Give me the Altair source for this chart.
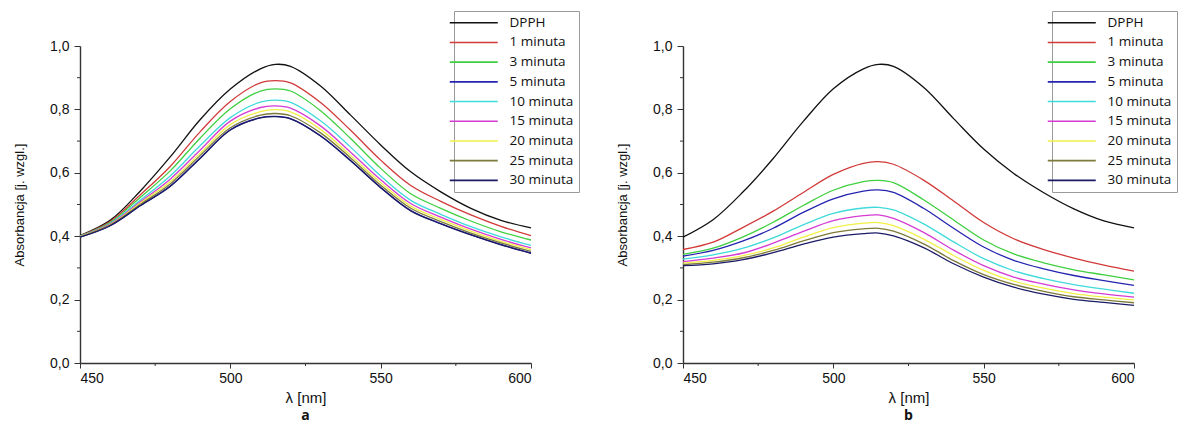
import altair as alt
import pandas as pd

wavelengths = [450, 460, 470, 480, 490, 500, 510, 515, 520, 530, 540, 550, 560, 570, 580, 590, 600]

series_names = ["DPPH", "1 minuta", "3 minuta", "5 minuta", "10 minuta",
                "15 minuta", "20 minuta", "25 minuta", "30 minuta"]
series_colors = ["#111111", "#d23a3a", "#3fcf3f", "#2424b0", "#40dada",
                 "#d43cd4", "#f2f046", "#7d7a3a", "#1b1b66"]

# panel a
a_dpph = [0.402, 0.450, 0.542, 0.650, 0.768, 0.864, 0.928, 0.942, 0.936, 0.874, 0.782, 0.688, 0.603, 0.540, 0.488, 0.450, 0.426]
a_1 = [0.401, 0.446, 0.530, 0.620, 0.730, 0.825, 0.884, 0.891, 0.884, 0.822, 0.734, 0.640, 0.560, 0.510, 0.467, 0.431, 0.402]
a_3 = [0.400, 0.443, 0.522, 0.606, 0.710, 0.802, 0.858, 0.865, 0.858, 0.796, 0.708, 0.614, 0.534, 0.488, 0.448, 0.414, 0.388]
a_5 = [0.397, 0.433, 0.496, 0.558, 0.647, 0.736, 0.774, 0.778, 0.771, 0.717, 0.639, 0.554, 0.481, 0.440, 0.405, 0.374, 0.347]
a_10 = [0.400, 0.440, 0.513, 0.590, 0.686, 0.774, 0.823, 0.829, 0.822, 0.764, 0.681, 0.590, 0.513, 0.469, 0.430, 0.398, 0.371]
a_15 = [0.399, 0.438, 0.508, 0.580, 0.672, 0.763, 0.806, 0.811, 0.804, 0.748, 0.665, 0.578, 0.503, 0.460, 0.422, 0.390, 0.363]
a_20 = [0.399, 0.436, 0.504, 0.572, 0.662, 0.752, 0.793, 0.799, 0.792, 0.737, 0.655, 0.569, 0.495, 0.453, 0.416, 0.384, 0.358]
a_25 = [0.398, 0.435, 0.500, 0.565, 0.655, 0.742, 0.782, 0.787, 0.780, 0.726, 0.647, 0.561, 0.488, 0.446, 0.410, 0.379, 0.352]
a_30 = [0.397, 0.433, 0.496, 0.557, 0.646, 0.735, 0.773, 0.777, 0.770, 0.716, 0.638, 0.553, 0.480, 0.439, 0.404, 0.373, 0.346]

# panel b
b_dpph = [0.397, 0.452, 0.540, 0.645, 0.762, 0.865, 0.928, 0.942, 0.936, 0.870, 0.771, 0.675, 0.598, 0.537, 0.486, 0.448, 0.426]
b_1 = [0.358, 0.381, 0.428, 0.479, 0.538, 0.595, 0.630, 0.635, 0.627, 0.577, 0.511, 0.443, 0.392, 0.358, 0.331, 0.309, 0.290]
b_3 = [0.343, 0.362, 0.398, 0.444, 0.497, 0.545, 0.572, 0.576, 0.569, 0.515, 0.451, 0.388, 0.344, 0.316, 0.294, 0.278, 0.262]
b_5 = [0.337, 0.355, 0.385, 0.425, 0.475, 0.518, 0.542, 0.546, 0.538, 0.488, 0.425, 0.366, 0.324, 0.297, 0.276, 0.260, 0.245]
b_10 = [0.328, 0.341, 0.362, 0.395, 0.436, 0.472, 0.489, 0.491, 0.483, 0.439, 0.382, 0.329, 0.291, 0.266, 0.247, 0.233, 0.220]
b_15 = [0.320, 0.331, 0.347, 0.378, 0.415, 0.449, 0.465, 0.467, 0.456, 0.412, 0.356, 0.307, 0.271, 0.249, 0.231, 0.218, 0.208]
b_20 = [0.315, 0.324, 0.339, 0.363, 0.397, 0.427, 0.441, 0.443, 0.433, 0.391, 0.339, 0.292, 0.258, 0.236, 0.219, 0.208, 0.199]
b_25 = [0.310, 0.318, 0.332, 0.355, 0.385, 0.411, 0.423, 0.425, 0.416, 0.376, 0.323, 0.279, 0.248, 0.226, 0.209, 0.199, 0.190]
b_30 = [0.307, 0.313, 0.326, 0.348, 0.375, 0.397, 0.408, 0.410, 0.401, 0.364, 0.313, 0.271, 0.239, 0.217, 0.201, 0.191, 0.182]

y_major = [0.0, 0.2, 0.4, 0.6, 0.8, 1.0]
y_minor = [0.1, 0.3, 0.5, 0.7, 0.9]
x_major = [450, 500, 550, 600]
x_minor = [475, 525, 575]

panel_a = [a_dpph, a_1, a_3, a_5, a_10, a_15, a_20, a_25, a_30]
panel_b = [b_dpph, b_1, b_3, b_5, b_10, b_15, b_20, b_25, b_30]

AXIS_FONT = "Liberation Sans"
W, H = 451, 317


def make_df(panel):
    rows = []
    for k, (name, vals) in enumerate(zip(series_names, panel)):
        for wl, v in zip(wavelengths, vals):
            rows.append({"series": name, "k": k, "wl": wl, "absb": v})
    return pd.DataFrame(rows)


def make_panel(panel, letter, legend_x):
    df = make_df(panel)
    x_enc = alt.X("wl:Q", scale=alt.Scale(domain=[450, 600], nice=False, zero=False),
                  axis=alt.Axis(values=x_major, title="λ [nm]", format="d",
                                tickSize=5, labelPadding=3, titlePadding=5,
                                labelFontSize=14, titleFontSize=15,
                                labelFont=AXIS_FONT, titleFont=AXIS_FONT,
                                titleFontWeight="normal", grid=False,
                                domainColor="#333", tickColor="#333",
                                labelColor="#111", titleColor="#111"))
    y_enc = alt.Y("absb:Q", scale=alt.Scale(domain=[0, 1.0], nice=False),
                  axis=alt.Axis(values=y_major, title="Absorbancja [j. wzgl.]",
                                labelExpr="replace(format(datum.value, '.1f'), '.', ',')",
                                tickSize=6, labelPadding=5, titlePadding=23,
                                labelFontSize=14, titleFontSize=13,
                                labelFont=AXIS_FONT, titleFont=AXIS_FONT,
                                titleFontWeight="normal", grid=False,
                                domainColor="#333", tickColor="#333",
                                labelColor="#111", titleColor="#111"))
    lines = alt.Chart(df).mark_line(interpolate="catmull-rom", strokeWidth=1.3).encode(
        x=x_enc,
        y=y_enc,
        color=alt.Color("series:N",
                        scale=alt.Scale(domain=series_names, range=series_colors),
                        sort=series_names,
                        legend=alt.Legend(title=None, orient="none",
                                          legendX=legend_x, legendY=-35,
                                          symbolType="M-6.6,0H3.0", symbolSize=100,
                                          symbolStrokeWidth=1.6, symbolOffset=17,
                                          labelOffset=20, labelFont="Open Sans",
                                          labelFontSize=13.5, labelColor="#111",
                                          rowPadding=4.7, padding=5,
                                          strokeColor="#9a9a9a", fillColor="white",
                                          labelLimit=200)),
        order=alt.Order("k:Q"),
    )
    ymin = alt.Chart(pd.DataFrame({"absb": y_minor})).mark_rule(color="#333", strokeWidth=1).encode(
        y="absb:Q", x=alt.value(-3), x2=alt.value(0))
    xmin = alt.Chart(pd.DataFrame({"wl": x_minor})).mark_rule(color="#333", strokeWidth=1).encode(
        x="wl:Q", y=alt.value(H), y2=alt.value(H + 3))
    return alt.layer(xmin, ymin, lines).properties(
        width=W, height=H,
        title=alt.TitleParams(letter, orient="bottom", fontSize=14, fontWeight="bold",
                              font="Open Sans", color="#111", offset=4),
    )


left = make_panel(panel_a, "a", 374)
right = make_panel(panel_b, "b", 369)

chart = alt.hconcat(left, right, spacing=36).resolve_legend(color="independent").configure_view(
    stroke=None).configure_axis(domainWidth=1.4).properties(
    padding={"left": 5, "top": 2, "right": 0, "bottom": 0})

chart.save("out.html", embed_options={"renderer": "svg", "actions": False})
